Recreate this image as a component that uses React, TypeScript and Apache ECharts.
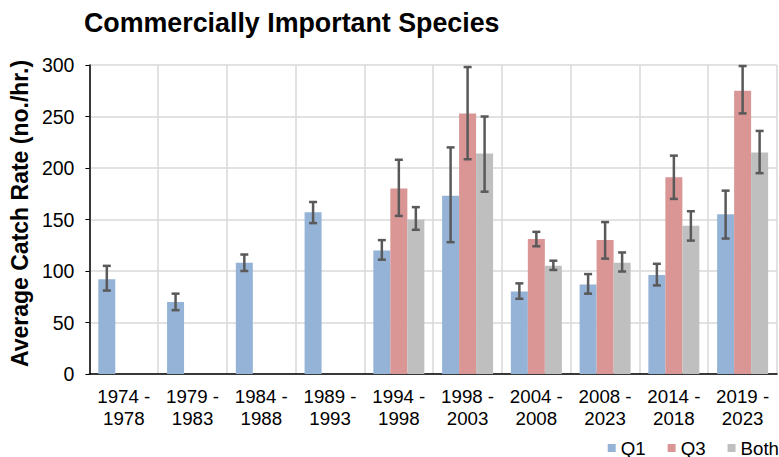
import React, { useEffect, useRef } from "react";
import * as echarts from "echarts";

const categories = [
  "1974 -\n1978", "1979 -\n1983", "1984 -\n1988", "1989 -\n1993", "1994 -\n1998",
  "1998 -\n2003", "2004 -\n2008", "2008 -\n2023", "2014 -\n2018", "2019 -\n2023",
];
const q1 = [92, 70, 108, 157, 120, 173, 80, 87, 96, 155];
const q1Low = [81, 62, 100, 146.5, 111, 128, 73, 78, 86, 131.5];
const q1High = [105, 78, 116, 167, 130, 220, 88, 97, 107, 178];
const q3 = [null, null, null, null, 180, 253, 131, 130, 191, 275];
const q3Low = [null, null, null, null, 153.5, 208.5, 124, 112, 170, 253];
const q3High = [null, null, null, null, 208, 298, 138, 147.5, 212, 299];
const both = [null, null, null, null, 150, 214, 105, 108, 144, 215];
const bothLow = [null, null, null, null, 140, 177, 101, 99.5, 129.5, 195];
const bothHigh = [null, null, null, null, 162, 250, 110, 118, 158, 236];
const yTicks = { min: 0, max: 300, interval: 50 };
const seriesNames = ["Q1", "Q3", "Both"];
const colors = ["#95b3d7", "#da9694", "#bfbfbf"];

const FONT = "Arial, 'Liberation Sans', sans-serif";
const BAR_W = 17;

function errorSeries(low: (number | null)[], high: (number | null)[], offset: number) {
  const data = low.map((l, i) => [i, l, high[i]]).filter((d) => d[1] != null);
  return {
    type: "custom",
    silent: true,
    z: 10,
    data,
    encode: { x: 0, y: [1, 2] },
    renderItem: (params: any, api: any) => {
      const idx = api.value(0);
      const lo = api.coord([idx, api.value(1)]);
      const hi = api.coord([idx, api.value(2)]);
      const x = lo[0] + offset;
      const cap = 4;
      const style = { stroke: "#595959", lineWidth: 2.5, fill: null };
      return {
        type: "group",
        children: [
          { type: "line", shape: { x1: x, y1: lo[1], x2: x, y2: hi[1] }, style },
          { type: "line", shape: { x1: x - cap, y1: lo[1], x2: x + cap, y2: lo[1] }, style },
          { type: "line", shape: { x1: x - cap, y1: hi[1], x2: x + cap, y2: hi[1] }, style },
        ],
      };
    },
  };
}

export default function App() {
  const ref = useRef<HTMLDivElement>(null);
  useEffect(() => {
    if (!ref.current) return;
    const chart = echarts.init(ref.current, null, { renderer: "svg" });
    const values = [q1, q3, both];
    chart.setOption({
      animation: false,
      textStyle: { fontFamily: FONT },
      title: {
        text: "Commercially Important Species",
        left: 84,
        top: 9,
        padding: 0,
        textStyle: { fontFamily: FONT, fontSize: 26.8, fontWeight: "bold", color: "#000" },
      },
      legend: {
        data: seriesNames,
        right: 0,
        top: 438,
        padding: [0, 0, 0, 0],
        itemWidth: 8,
        itemHeight: 8,
        itemGap: 22,
        icon: "rect",
        textStyle: { fontFamily: FONT, fontSize: 18.7, lineHeight: 20, color: "#000" },
      },
      grid: { left: 83, right: 2, top: 65, bottom: 83 },
      xAxis: {
        type: "category",
        data: categories,
        axisLine: { lineStyle: { color: "#000", width: 1.5 } },
        axisTick: { alignWithLabel: true, interval: 0, length: 4, lineStyle: { color: "#000" } },
        axisLabel: { interval: 0, fontFamily: FONT, fontSize: 18.7, color: "#000", lineHeight: 22, margin: 11 },
        splitLine: { show: true, interval: 0, lineStyle: { color: "#d9d9d9", width: 1.5 } },
      },
      yAxis: {
        type: "value",
        min: yTicks.min,
        max: yTicks.max,
        interval: yTicks.interval,
        name: "Average Catch Rate (no./hr.)",
        nameLocation: "middle",
        nameRotate: 90,
        nameGap: 48,
        nameTextStyle: {
          fontFamily: FONT, fontSize: 23, fontWeight: "bold", color: "#000", padding: [0, 0, 0, 12],
        },
        axisLine: { show: true, lineStyle: { color: "#000", width: 1.5 } },
        axisTick: { show: true, length: 4, lineStyle: { color: "#000" } },
        axisLabel: { fontFamily: FONT, fontSize: 19.5, color: "#000", margin: 15 },
        splitLine: { show: true, lineStyle: { color: "#d9d9d9", width: 1.5 } },
      },
      series: [
        ...values.map((v, i) => ({
          name: seriesNames[i],
          type: "bar",
          data: v,
          barWidth: BAR_W,
          barGap: "0%",
          itemStyle: { color: colors[i] },
        })),
        errorSeries(q1Low, q1High, -BAR_W),
        errorSeries(q3Low, q3High, 0),
        errorSeries(bothLow, bothHigh, BAR_W),
      ],
    });
    return () => chart.dispose();
  }, []);
  return (
    <div
      ref={ref}
      style={{ position: "fixed", left: 0, top: 0, width: 779, height: 457, background: "#fff" }}
    />
  );
}
